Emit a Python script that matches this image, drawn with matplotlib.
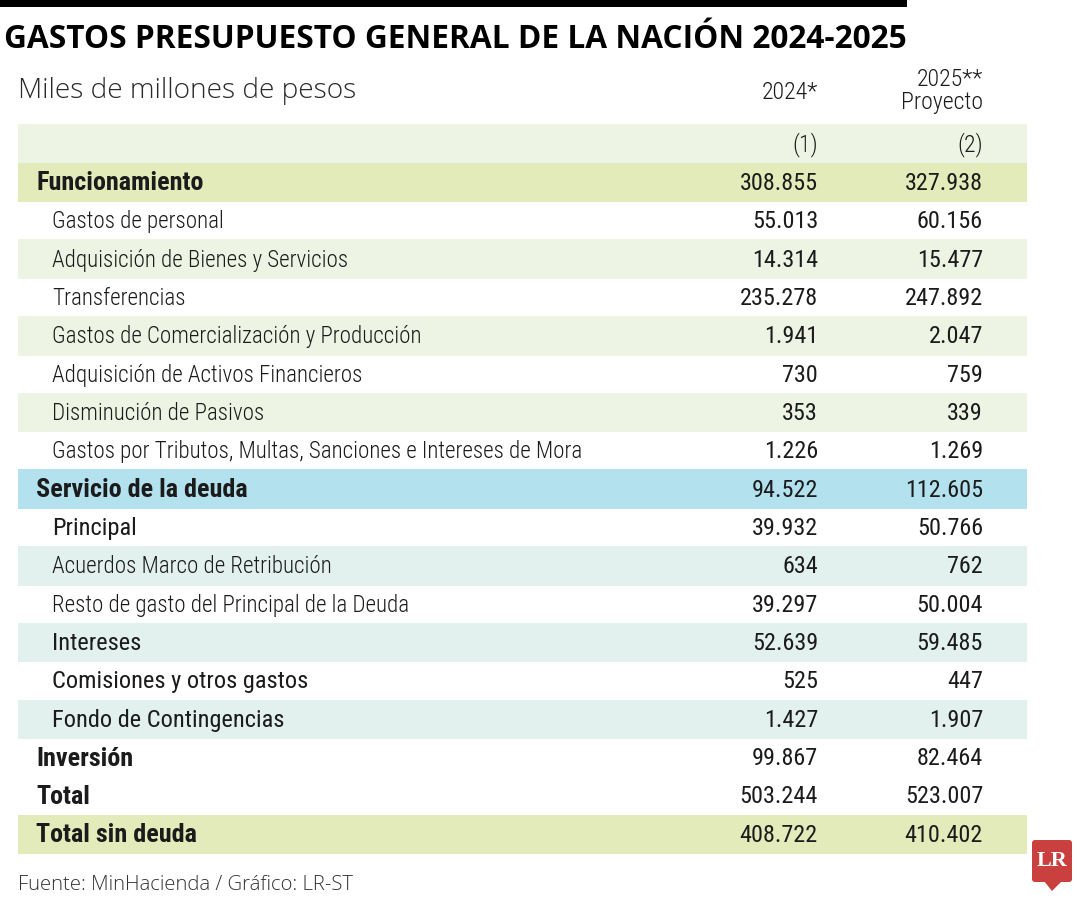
import matplotlib
matplotlib.use("Agg")
import matplotlib.pyplot as plt
from matplotlib.patches import FancyBboxPatch, Polygon, Rectangle

# ---------------- data ----------------
title = "GASTOS PRESUPUESTO GENERAL DE LA NACIÓN 2024-2025"
subtitle = "Miles de millones de pesos"
col_headers = ["2024*", "2025**\nProyecto"]
col_notes = ["(1)", "(2)"]
labels = [
    "Funcionamiento",
    "Gastos de personal",
    "Adquisición de Bienes y Servicios",
    "Transferencias",
    "Gastos de Comercialización y Producción",
    "Adquisición de Activos Financieros",
    "Disminución de Pasivos",
    "Gastos por Tributos, Multas, Sanciones e Intereses de Mora",
    "Servicio de la deuda",
    "Principal",
    "Acuerdos Marco de Retribución",
    "Resto de gasto del Principal de la Deuda",
    "Intereses",
    "Comisiones y otros gastos",
    "Fondo de Contingencias",
    "Inversión",
    "Total",
    "Total sin deuda",
]
values_2024 = ["308.855", "55.013", "14.314", "235.278", "1.941", "730", "353", "1.226",
               "94.522", "39.932", "634", "39.297", "52.639", "525", "1.427",
               "99.867", "503.244", "408.722"]
values_2025 = ["327.938", "60.156", "15.477", "247.892", "2.047", "759", "339", "1.269",
               "112.605", "50.766", "762", "50.004", "59.485", "447", "1.907",
               "82.464", "523.007", "410.402"]
# 0 = main heading (bold), 1 = sub item (light), 2 = sub item (regular)
levels = [0, 1, 1, 1, 1, 1, 1, 1, 0, 2, 1, 1, 2, 2, 2, 0, 0, 0]
# band colour key per row
bands = ["olive", None, "green", None, "green", None, "green", None,
         "blue", None, "teal", None, "teal", None, "teal", None, None, "olive"]
source = "Fuente: MinHacienda / Gráfico: LR-ST"

band_colors = {"olive": "#e4ebbb", "green": "#eef4e4", "blue": "#b3e1ee", "teal": "#e2f1ee"}
header_band = "#eef4e4"

# ---------------- figure ----------------
W, H = 1080, 900
fig = plt.figure(figsize=(W / 100, H / 100), dpi=100)
ax = fig.add_axes([0, 0, 1, 1])
ax.set_xlim(0, W)
ax.set_ylim(H, 0)
ax.axis("off")

COND = "Roboto Condensed"
TXT = "#1b1b1b"
FS_LIGHT = 16.6
FS_REG = 17.6
FS_BOLD = 18.8
FS_NUM = 17.4

x_left, x_right = 18, 1027
col_x = [818, 983]
y0 = 144.0        # centre of the (1)/(2) row
pitch = 38.35
band_h = 39.5

# top black bar
ax.add_patch(Rectangle((0, 0), 907, 7, color="black", lw=0))

# title & subtitle
ax.text(4, 48, title, fontsize=22.8, fontweight="bold", family="Open Sans",
        color="black", va="baseline", ha="left")
ax.text(18, 98, subtitle, fontsize=20.2, fontweight="light", family="Open Sans",
        color="#2a2a2a", va="baseline", ha="left")

# column headers
ax.text(col_x[0], 99, col_headers[0], fontsize=17.2, fontweight="light", family=COND,
        color=TXT, ha="right", va="baseline")
ax.text(col_x[1], 109, col_headers[1], fontsize=17.2, fontweight="light", family=COND,
        color=TXT, ha="right", va="baseline", linespacing=1.0, multialignment="right")

# header band with (1) (2)
ax.barh([y0], [x_right - x_left], left=x_left, height=band_h, color=header_band, lw=0)
for cx, note in zip(col_x, col_notes):
    ax.text(cx, y0 + 1, note, fontsize=17.2, fontweight="light", family=COND,
            color=TXT, ha="right", va="center")

# rows
ys = [y0 + pitch * (i + 1) for i in range(len(labels))]
for y, lab, v1, v2, lev, b in zip(ys, labels, values_2024, values_2025, levels, bands):
    if b is not None:
        ax.barh([y], [x_right - x_left], left=x_left, height=band_h,
                color=band_colors[b], lw=0)
    ty = y + 1
    if lev == 0:
        ax.text(36, ty, lab, fontsize=FS_BOLD, fontweight="bold", family=COND,
                color=TXT, ha="left", va="center")
    elif lev == 1:
        ax.text(52, ty, lab, fontsize=FS_LIGHT, fontweight="light", family=COND,
                color=TXT, ha="left", va="center")
    else:
        ax.text(52, ty, lab, fontsize=FS_REG, fontweight="normal", family=COND,
                color=TXT, ha="left", va="center")
    for cx, v in zip(col_x, (v1, v2)):
        ax.text(cx, ty, v, fontsize=FS_NUM, fontweight="normal", family=COND,
                color=TXT, ha="right", va="center")

# source
ax.text(18, 890, source, fontsize=14.6, fontweight="light", family="Open Sans",
        color="#333333", ha="left", va="baseline")

# LR logo
red = "#c9403f"
ax.add_patch(FancyBboxPatch((1032, 840), 40, 42,
                            boxstyle="round,pad=0,rounding_size=3", color=red, lw=0))
ax.add_patch(Polygon([[1044, 881], [1062, 881], [1052, 891]], closed=True, color=red, lw=0))
ax.text(1052, 861, "LR", fontsize=16, fontweight="bold", family="Liberation Serif",
        color="white", ha="center", va="center")

fig.savefig("out.png", dpi=100)
